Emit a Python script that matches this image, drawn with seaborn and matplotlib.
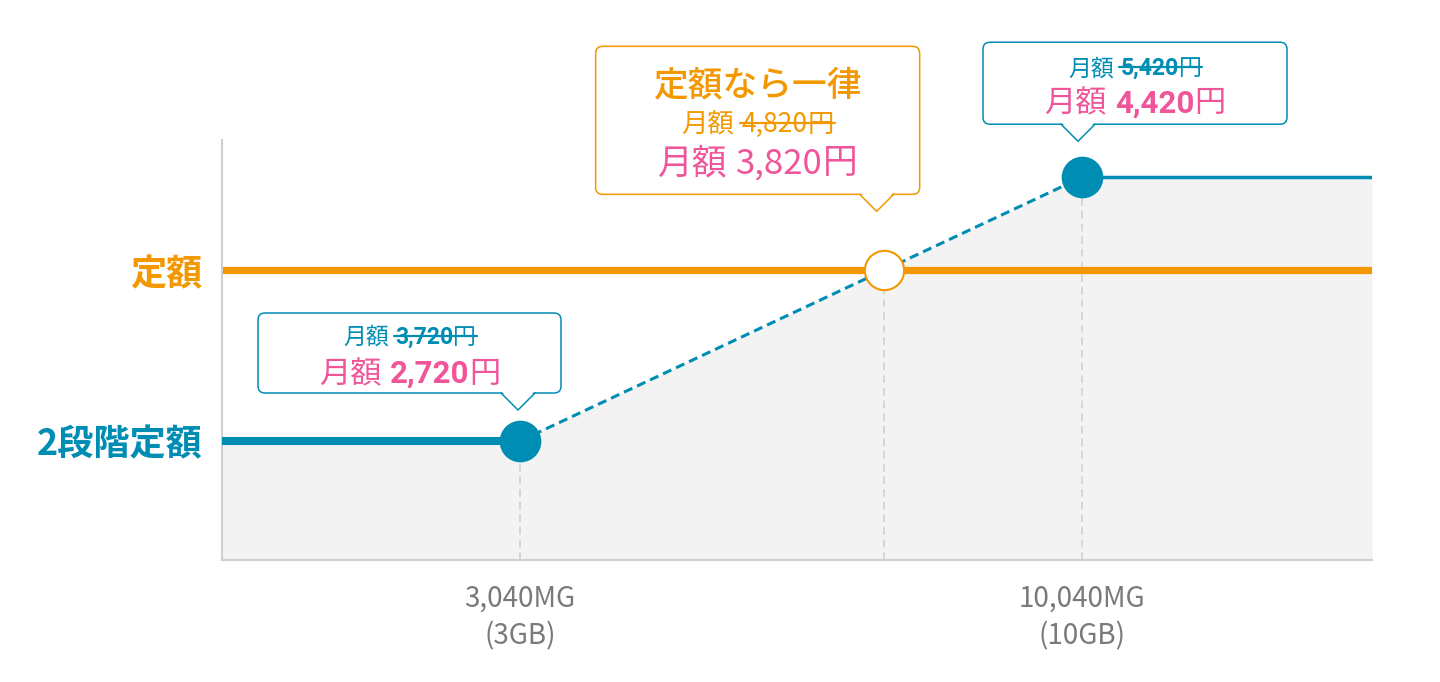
import matplotlib
matplotlib.use("Agg")
import matplotlib.pyplot as plt
import pandas as pd
import seaborn as sns
from matplotlib.patches import FancyBboxPatch, Polygon
from matplotlib.lines import Line2D
from matplotlib.transforms import IdentityTransform

# data
data_mb = [3040, 10040]              # thresholds (MB)
step_price = [2720, 4420]            # 2段階定額 price, low / high
step_old = [3720, 5420]              # struck-through old prices
flat_price = 3820                    # 定額
flat_old = 4820
tick_labels = ["3,040MG\n(3GB)", "10,040MG\n(10GB)"]
plan_labels = ["2段階定額", "定額"]
flat_title = "定額なら一律"

BLUE = "#008db4"
ORANGE = "#f39800"
PINK = "#f0559a"
FILL = "#f3f3f3"
GUIDE = "#d6d6d6"
TICK = "#7a7a7a"

sns.set_theme(style="white")
plt.rcParams["font.family"] = ["Noto Sans CJK JP", "DejaVu Sans"]

fig = plt.figure(figsize=(14.4, 6.82), dpi=100)
ax = fig.add_axes([222 / 1440, 1 - 560 / 682, 1150 / 1440, 420 / 682])
xmin, xmax = -672, 13652
ymin, ymax = 1953, 4660
ax.set_xlim(xmin, xmax)
ax.set_ylim(ymin, ymax)

# where the dashed ramp crosses the flat plan
cross_x = data_mb[0] + (flat_price - step_price[0]) / (step_price[1] - step_price[0]) * (data_mb[1] - data_mb[0])

# grey area under the 2-step line
path_x = [xmin, data_mb[0], data_mb[1], xmax]
path_y = [step_price[0], step_price[0], step_price[1], step_price[1]]
ax.fill_between(path_x, path_y, ymin, color=FILL, lw=0, zorder=0)

# dashed guides down to the axis
for gx, gy in [(data_mb[0], step_price[0]), (cross_x, flat_price), (data_mb[1], step_price[1])]:
    ax.plot([gx, gx], [ymin, gy], color=GUIDE, lw=1.4, ls=(0, (4, 2.5)), zorder=1)

# flat plan
flat_df = pd.DataFrame({"mb": [xmin, xmax], "price": [flat_price, flat_price]})
sns.lineplot(data=flat_df, x="mb", y="price", color=ORANGE, lw=5.2, ax=ax, zorder=2)

# 2-step plan
low_df = pd.DataFrame({"mb": [xmin, data_mb[0]], "price": [step_price[0]] * 2})
ramp_df = pd.DataFrame({"mb": data_mb, "price": step_price})
high_df = pd.DataFrame({"mb": [data_mb[1], xmax], "price": [step_price[1]] * 2})
sns.lineplot(data=low_df, x="mb", y="price", color=BLUE, lw=5.8, ax=ax, zorder=3)
sns.lineplot(data=ramp_df, x="mb", y="price", color=BLUE, lw=2.2,
             linestyle=(0, (3, 1.7)), ax=ax, zorder=3)
sns.lineplot(data=high_df, x="mb", y="price", color=BLUE, lw=2.5, ax=ax, zorder=3)

sns.scatterplot(x=data_mb, y=step_price, s=900, color=BLUE, linewidth=0, ax=ax, zorder=5)
sns.scatterplot(x=[cross_x], y=[flat_price], s=800, color="white", edgecolor=ORANGE,
                linewidth=1.5, ax=ax, zorder=5)

# axes styling
sns.despine(ax=ax)
for side in ["left", "bottom"]:
    ax.spines[side].set_color("#d0d0d0")
    ax.spines[side].set_linewidth(1.5)
ax.set_xlabel("")
ax.set_ylabel("")
ax.set_xticks(data_mb, tick_labels)
ax.tick_params(axis="x", length=0, pad=17, labelsize=20, labelcolor=TICK)
for lab in ax.get_xticklabels():
    lab.set_linespacing(1.32)
ax.set_yticks([step_price[0], flat_price], plan_labels)
ax.tick_params(axis="y", length=0, pad=14, labelsize=26)
for lab, c in zip(ax.get_yticklabels(), [BLUE, ORANGE]):
    lab.set_color(c)
    lab.set_fontweight("bold")

renderer = fig.canvas.get_renderer()
ID = IdentityTransform()


def bubble(x, y, dx, gap, w, h, tip_left, color):
    px, py = ax.transData.transform((x, y))
    tx, ty = px + dx, py + gap
    b = ty + 17
    l = tx - tip_left
    fig.add_artist(FancyBboxPatch((l, b), w, h, boxstyle="round,pad=0,rounding_size=7",
                                  fc="white", ec=color, lw=1.1, transform=ID, zorder=6))
    fig.add_artist(Polygon([(tx - 16, b + 1.2), (tx, ty + 1), (tx + 16, b + 1.2)], closed=True,
                           fc="white", ec="none", transform=ID, zorder=7))
    fig.add_artist(Line2D([tx - 17, tx, tx + 17], [b, ty, b], color=color, lw=1.1,
                          transform=ID, zorder=8))
    return l + w / 2, b + h


def text_line(cx, base, runs, size):
    # runs: (text, weight, color, family, strike)
    arts = []
    for txt, wt, col, fam, strike in runs:
        t = fig.text(0, base, txt, transform=ID, ha="left", va="baseline", fontsize=size,
                     fontweight=wt, color=col, family=fam, zorder=9)
        arts.append((t, t.get_window_extent(renderer).width, strike, col))
    gap = 0.27 * size * 100 / 72
    total = sum(a[1] for a in arts) + gap
    x = cx - total / 2
    s0 = s1 = None
    for i, (t, w, strike, col) in enumerate(arts):
        t.set_x(x)
        if strike:
            s0 = x if s0 is None else s0
            s1 = x + w
            scol = col
        x += w + (gap if i == 0 else 0)
    if s0 is not None:
        sy = base + 0.36 * size * 100 / 72
        fig.add_artist(Line2D([s0 - 1, s1 + 1], [sy, sy], color=scol, lw=1.6, transform=ID, zorder=10))


JP = ["Noto Sans CJK JP"]
NUM = ["Roboto", "Noto Sans CJK JP"]

# left bubble (low step)
cx, top = bubble(data_mb[0], step_price[0], -2, 31, 303, 80, 260, BLUE)
text_line(cx, top - 31, [("月額", "normal", BLUE, JP, False),
                         (f"{step_old[0]:,}", "bold", BLUE, NUM, True),
                         ("円", "normal", BLUE, JP, True)], 16.5)
text_line(cx, top - 70, [("月額", "normal", PINK, JP, False),
                         (f"{step_price[0]:,}", "bold", PINK, NUM, False),
                         ("円", "normal", PINK, JP, False)], 22.5)

# right bubble (high step)
cx, top = bubble(data_mb[1], step_price[1], -4, 36, 304, 82, 95, BLUE)
text_line(cx, top - 33, [("月額", "normal", BLUE, JP, False),
                         (f"{step_old[1]:,}", "bold", BLUE, NUM, True),
                         ("円", "normal", BLUE, JP, True)], 16.5)
text_line(cx, top - 70, [("月額", "normal", PINK, JP, False),
                         (f"{step_price[1]:,}", "bold", PINK, NUM, False),
                         ("円", "normal", PINK, JP, False)], 22.5)

# flat plan bubble
cx, top = bubble(cross_x, flat_price, -7, 59, 324, 148, 281, ORANGE)
fig.text(cx, top - 49, flat_title, transform=ID, ha="center", va="baseline", fontsize=25,
         fontweight="medium", color=ORANGE, family=JP, zorder=9)
text_line(cx, top - 86, [("月額", "normal", ORANGE, JP, False),
                         (f"{flat_old:,}", "normal", ORANGE, JP, True),
                         ("円", "normal", ORANGE, JP, True)], 19)
text_line(cx, top - 127, [("月額", "normal", PINK, JP, False),
                          (f"{flat_price:,}", "normal", PINK, JP, False),
                          ("円", "normal", PINK, JP, False)], 25)

fig.savefig("out.png", dpi=100, facecolor="white")
